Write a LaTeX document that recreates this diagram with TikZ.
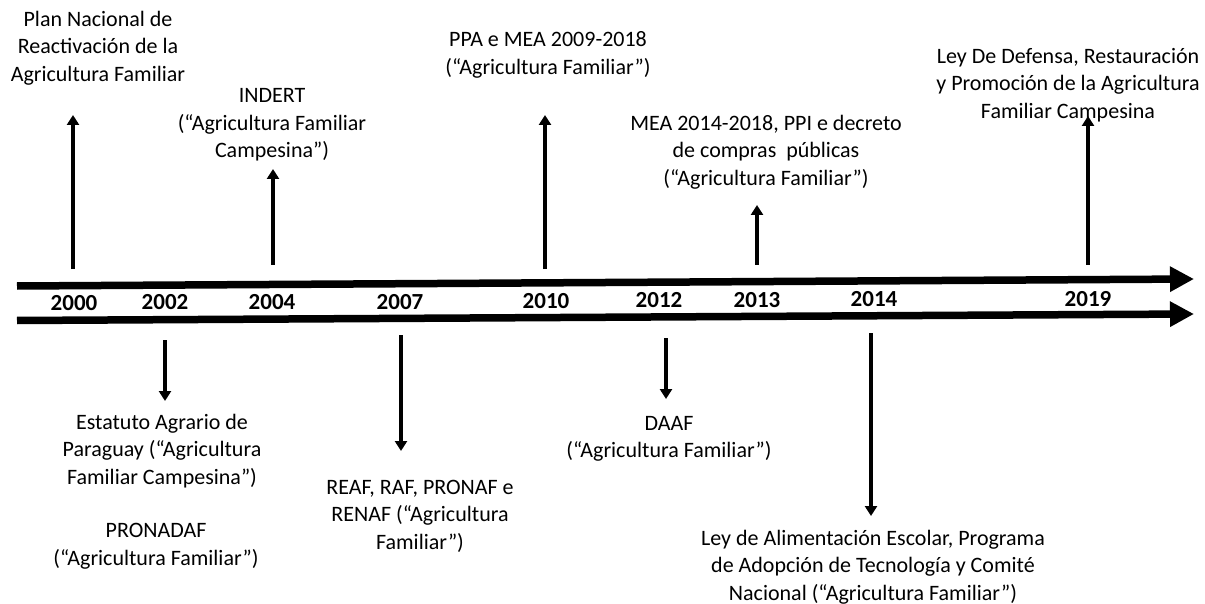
\documentclass[tikz,border=0pt]{standalone}
\usepackage{fontspec}
\setmainfont{Carlito}
\usetikzlibrary{arrows.meta}
\begin{document}
\begin{tikzpicture}[x=1pt,y=-1pt,
  lbl/.style={align=center,inner sep=0pt,font=\fontsize{22}{27.5}\selectfont},
  yr/.style={inner sep=0pt,font=\fontsize{23}{26}\selectfont\bfseries},
  timeline/.style={line width=7.5pt,-{Triangle[length=24pt,width=24pt]}},
  evt/.style={line width=3.2pt,-{Triangle[length=10pt,width=12pt]}}]
\useasboundingbox (0,0) rectangle (1205,604);
% timelines
\coordinate (t1s) at (17,286);
\coordinate (t1e) at (1194,279);
\coordinate (t2s) at (17,320.5);
\coordinate (t2e) at (1194,314);
\draw[timeline] (t1s) -- (t1e);
\draw[timeline] (t2s) -- (t2e);
% years
\node[yr] (y2000) at (74,303) {2000};
\node[yr] (y2002) at (165,302) {2002};
\node[yr] (y2004) at (272,302) {2004};
\node[yr] (y2007) at (400,302) {2007};
\node[yr] (y2010) at (546,301) {2010};
\node[yr] (y2012) at (659,300) {2012};
\node[yr] (y2013) at (757,300) {2013};
\node[yr] (y2014) at (874,299) {2014};
\node[yr] (y2019) at (1088,299) {2019};
% upper labels
\node[lbl] (l2000) at (98,48) {Plan Nacional de\\Reactivación de la\\Agricultura Familiar};
\node[lbl] (l2004) at (272,125) {INDERT\\(“Agricultura Familiar\\Campesina”)};
\node[lbl] (l2010) at (548,55) {PPA e MEA 2009-2018\\(“Agricultura Familiar”)};
\node[lbl] (l2013) at (766,152) {MEA 2014-2018, PPI e decreto\\de compras \ públicas\\(“Agricultura Familiar”)};
\node[lbl] (l2019) at (1068,85) {Ley De Defensa, Restauración\\y Promoción de la Agricultura\\Familiar Campesina};
% lower labels
\node[lbl] (l2002a) at (162,451) {Estatuto Agrario de\\Paraguay (“Agricultura\\Familiar Campesina”)};
\node[lbl] (l2002b) at (156,546) {PRONADAF\\(“Agricultura Familiar”)};
\node[lbl] (l2007) at (420,516) {REAF, RAF, PRONAF e\\RENAF (“Agricultura\\Familiar”)};
\node[lbl] (l2012) at (669,439) {DAAF\\(“Agricultura Familiar”)};
\node[lbl] (l2014) at (873,567) {Ley de Alimentación Escolar, Programa\\de Adopción de Tecnología y Comité\\Nacional (“Agricultura Familiar”)};
% event arrows
\coordinate (a2000s) at (73,269); \coordinate (a2000e) at (73,115);
\coordinate (a2004s) at (273,265); \coordinate (a2004e) at (273,169);
\coordinate (a2010s) at (545,269); \coordinate (a2010e) at (545,115);
\coordinate (a2013s) at (757,265); \coordinate (a2013e) at (757,205);
\coordinate (a2019s) at (1088,265); \coordinate (a2019e) at (1088,116);
\coordinate (a2002s) at (165,340); \coordinate (a2002e) at (165,401);
\coordinate (a2007s) at (401,335); \coordinate (a2007e) at (401,451);
\coordinate (a2012s) at (666,338); \coordinate (a2012e) at (666,399);
\coordinate (a2014s) at (871,333); \coordinate (a2014e) at (871,516);
\foreach \a in {2000,2004,2010,2013,2019,2002,2007,2012,2014}
  \draw[evt] (a\a s) -- (a\a e);
\end{tikzpicture}
\end{document}
